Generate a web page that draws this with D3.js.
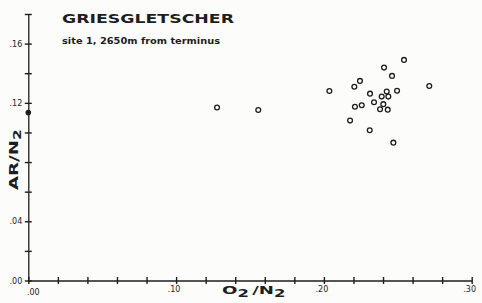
<!DOCTYPE html>
<html lang="en">
<head>
<meta charset="utf-8">
<title>Griesgletscher</title>
<script src="https://d3js.org/d3.v7.min.js"></script>
<style>
  body { margin: 0; background: #fcfcfa; }
  svg { display: block; }
</style>
</head>
<body>
<script>
// O2/N2 vs AR/N2 samples
const o2n2 = [0.1277, 0.1556, 0.2037, 0.2206, 0.2244, 0.2407, 0.2542, 0.2461, 0.2713,
              0.2495, 0.2312, 0.2425, 0.2391, 0.2436, 0.2339, 0.2210, 0.2256, 0.2402,
              0.2380, 0.2432, 0.2177, 0.2310, 0.2470];
const arn2 = [0.1168, 0.1152, 0.1280, 0.1309, 0.1348, 0.1438, 0.1490, 0.1382, 0.1314,
              0.1282, 0.1262, 0.1276, 0.1242, 0.1242, 0.1204, 0.1174, 0.1184, 0.1191,
              0.1157, 0.1154, 0.1080, 0.1015, 0.0931];
// reference value (filled dot on the axis)
const refX = [0.0];
const refY = [0.1134];

const xTicks = [0, 0.02, 0.04, 0.06, 0.08, 0.10, 0.12, 0.14, 0.16, 0.18, 0.20, 0.22, 0.24, 0.26, 0.28, 0.30];
const yTicks = [0, 0.02, 0.04, 0.06, 0.08, 0.10, 0.12, 0.14, 0.16, 0.18];
const xLabelled = [0, 0.10, 0.20, 0.30];
const yLabelled = [0, 0.04, 0.12, 0.16];

const width = 482, height = 303;
const ink = "#1e1e1e";

const x = d3.scaleLinear().domain([0, 0.30]).range([28.3, 471.7]);
const y = d3.scaleLinear().domain([0, 0.18]).range([280.5, 14]);

const svg = d3.select("body").append("svg")
  .attr("width", width).attr("height", height);

const fmt = d => d3.format(".2f")(d).replace(/^0/, "");

// x axis
const gx = svg.append("g").attr("transform", `translate(0,${y(0)})`)
  .call(d3.axisBottom(x).tickValues(xTicks).tickSize(0).tickFormat(""));
gx.select(".domain").attr("stroke", ink).attr("stroke-width", 1.3);
gx.selectAll(".tick line").attr("y1", -3.5).attr("y2", 3.5)
  .attr("stroke", ink).attr("stroke-width", 1.4);

// y axis
const gy = svg.append("g").attr("transform", `translate(${x(0)},0)`)
  .call(d3.axisLeft(y).tickValues(yTicks).tickSize(0).tickFormat(""));
gy.select(".domain").attr("stroke", ink).attr("stroke-width", 1.3);
gy.selectAll(".tick line").attr("x1", -3.5).attr("x2", 3.5)
  .attr("stroke", ink).attr("stroke-width", 1.4);

// tick labels
svg.append("g").selectAll("text").data(xLabelled).join("text")
  .attr("x", d => x(d) + (d === 0 ? 5 : -2))
  .attr("y", d => y(0) + (d === 0 ? 14 : 11))
  .attr("text-anchor", "middle")
  .attr("font-family", "DejaVu Sans").attr("font-size", 8).attr("fill", ink)
  .text(fmt);

svg.append("g").selectAll("text").data(yLabelled).join("text")
  .attr("x", x(0) - 6)
  .attr("y", d => y(d) + 3)
  .attr("text-anchor", "end")
  .attr("font-family", "DejaVu Sans").attr("font-size", 8).attr("fill", ink)
  .text(fmt);

// points
svg.append("g").selectAll("circle").data(o2n2).join("circle")
  .attr("cx", d => x(d))
  .attr("cy", (d, i) => y(arn2[i]))
  .attr("r", 2.4)
  .attr("fill", "none").attr("stroke", ink).attr("stroke-width", 1.3);

svg.append("g").selectAll("circle").data(refX).join("circle")
  .attr("cx", d => x(d))
  .attr("cy", (d, i) => y(refY[i]))
  .attr("r", 2.8)
  .attr("fill", ink);

// title
svg.append("text")
  .attr("x", 62).attr("y", 23)
  .attr("font-family", "DejaVu Sans").attr("font-weight", "bold")
  .attr("font-size", 12).attr("fill", ink)
  .attr("textLength", 172).attr("lengthAdjust", "spacingAndGlyphs")
  .text("GRIESGLETSCHER");

svg.append("text")
  .attr("x", 62).attr("y", 44)
  .attr("font-family", "DejaVu Sans").attr("font-weight", "bold")
  .attr("font-size", 8).attr("fill", ink)
  .attr("textLength", 158).attr("lengthAdjust", "spacingAndGlyphs")
  .text("site 1, 2650m from terminus");

// x axis title (wide lettering, so stretched horizontally)
const xt = svg.append("text")
  .attr("transform", "translate(222,294) scale(1.65,1)")
  .attr("font-family", "DejaVu Sans").attr("font-weight", "bold")
  .attr("font-size", 11).attr("fill", ink);
xt.append("tspan").text("O");
xt.append("tspan").attr("dy", 3).attr("font-size", 10).text("2");
xt.append("tspan").attr("dy", -3).attr("dx", 2).text("/N");
xt.append("tspan").attr("dy", 3).attr("font-size", 10).text("2");

// y axis title
const yt = svg.append("text")
  .attr("transform", "translate(18,190) rotate(-90) scale(1.4,1)")
  .attr("font-family", "DejaVu Sans").attr("font-weight", "bold")
  .attr("font-size", 13).attr("fill", ink);
yt.append("tspan").text("AR/N");
yt.append("tspan").attr("dy", 3).attr("font-size", 11).text("2");
</script>
</body>
</html>
